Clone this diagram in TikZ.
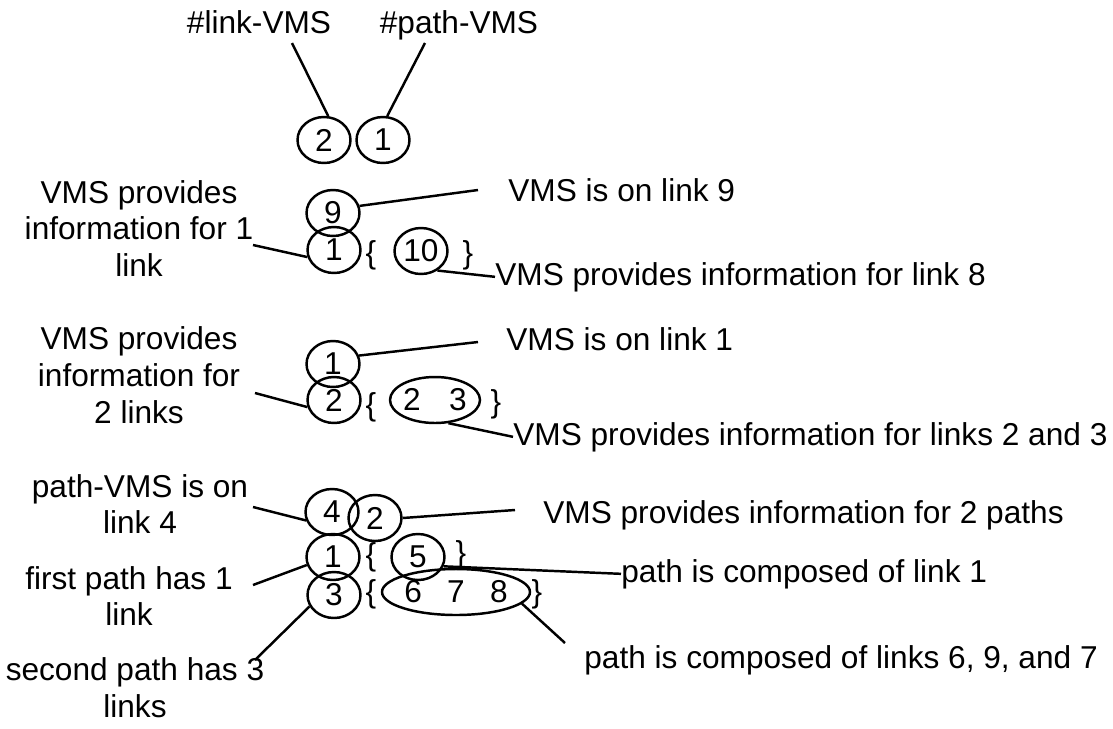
\documentclass[tikz,border=0pt]{standalone}
\usepackage{fontspec}
\setmainfont{Liberation Sans}
\usetikzlibrary{shapes.geometric}

\begin{document}
\begin{tikzpicture}[
    x=0.02cm, y=-0.02cm,
    % Círculos numerados (campos da mensagem)
    circ/.style={
        draw,
        ellipse,
        line width=1.4pt,
        inner sep=0pt,
        minimum width=1.06cm,
        minimum height=0.92cm,
        font=\fontsize{18}{21}\selectfont
    },
    % Rótulos de texto
    rot/.style={
        inner sep=0pt,
        align=center,
        font=\fontsize{18}{21}\selectfont
    },
    chave/.style={inner sep=0pt, font=\fontsize{18}{21}\selectfont},
    linha/.style={draw, line width=1.4pt}
]
\useasboundingbox (0,0) rectangle (1113,728);

% ---- CABEÇALHO: #link-VMS E #path-VMS ----
\node[rot, anchor=base] (lk_vms) at (259,33) {\#link-VMS};
\node[rot, anchor=base] (pt_vms) at (459,33) {\#path-VMS};
\node[circ] (c_lk) at (324,140) {2};
\node[circ] (c_pt) at (383,140) {1};

\coordinate (lk_fim) at (292,43);
\coordinate (pt_fim) at (425,43);
\draw[linha] (lk_fim) -- (c_lk.80);
\draw[linha] (pt_fim) -- (c_pt.80);

% ---- LINK-VMS 1: UM LINK ----
\node[circ] (a_on)  at (333,213) {9};
\node[circ] (a_n)   at (334,250) {1};
\node[chave] (a_ab) at (371,255) {\{};
\node[circ] (a_l1)  at (421,251) {10};
\node[chave] (a_fc) at (468,255) {\}};

\node[rot] (a_txt_n) at (139,228.5) {VMS provides\\information for 1\\link};
\node[rot, anchor=base west] (a_txt_on) at (508,201) {VMS is on link 9};
\node[rot, anchor=base west] (a_txt_l)  at (495,285) {VMS provides information for link 8};

\coordinate (a_on_fim) at (478,190);
\coordinate (a_n_fim)  at (253,245);
\draw[linha] (a_on.15) -- (a_on_fim);
\draw[linha] (a_n_fim) -- (a_n.195);
\draw[linha] (a_l1.-50) -- (a_txt_l.west);

% ---- LINK-VMS 2: DOIS LINKS ----
\node[circ] (b_on)  at (333,364) {1};
\node[circ] (b_n)   at (334,400) {2};
\node[chave] (b_ab) at (371,407) {\{};
\node[circ, minimum width=1.76cm] (b_l) at (435,400) {2\hspace{0.9em}3};
\node[chave] (b_fc) at (496,404) {\}};

\node[rot] (b_txt_n) at (139,375.5) {VMS provides\\information for\\2 links};
\node[rot, anchor=base west] (b_txt_on) at (506,350) {VMS is on link 1};
\node[rot, anchor=base west] (b_txt_l)  at (513,445) {VMS provides information for links 2 and 3};

\coordinate (b_on_fim) at (478,342);
\coordinate (b_n_fim)  at (255,393);
\draw[linha] (b_on.18) -- (b_on_fim);
\draw[linha] (b_n_fim) -- (b_n.195);
\draw[linha] (b_l.-60) -- (b_txt_l.west);

% ---- PATH-VMS: DOIS PATHS ----
\node[circ] (p_on)  at (332,512) {4};
\node[circ] (p_n)   at (375,518) {2};
\node[circ] (p_1n)  at (333,557) {1};
\node[chave] (p_1ab) at (371,557) {\{};
\node[circ] (p_1l)  at (418,557) {5};
\node[chave] (p_1fc) at (461,555) {\}};
\node[circ] (p_2n)  at (334,595) {3};
\node[chave] (p_2ab) at (371,594) {\{};
\node[circ, minimum width=2.96cm] (p_2l) at (456,592) {6\hspace{0.8em}7\hspace{0.8em}8};
\node[chave] (p_2fc) at (537,594) {\}};

\node[rot] (p_txt_on) at (140,504) {path-VMS is on\\link 4};
\node[rot] (p_txt_1n) at (129,596) {first path has 1\\link};
\node[rot] (p_txt_2n) at (135,688) {second path has 3\\links};
\node[rot, anchor=base west] (p_txt_n)  at (543,523) {VMS provides information for 2 paths};
\node[rot, anchor=base west] (p_txt_1l) at (621,582) {path is composed of link 1};
\node[rot, anchor=base west] (p_txt_2l) at (584,668) {path is composed of links 6, 9, and 7};

\coordinate (p_on_fim) at (253,507);
\coordinate (p_n_fim)  at (515,510);
\coordinate (p_1n_fim) at (253,585);
\coordinate (p_2n_fim) at (255,660);
\coordinate (p_2l_fim) at (565,643);
\draw[linha] (p_on_fim) -- (p_on.198);
\draw[linha] (p_n.east) -- (p_n_fim);
\draw[linha] (p_1n_fim) -- (p_1n.197);
\draw[linha] (p_2n_fim) -- (p_2n.205);
\draw[linha] (p_1l.-20) -- (p_txt_1l.west);
\draw[linha] (p_2l.-10) -- (p_2l_fim);

\end{tikzpicture}
\end{document}
